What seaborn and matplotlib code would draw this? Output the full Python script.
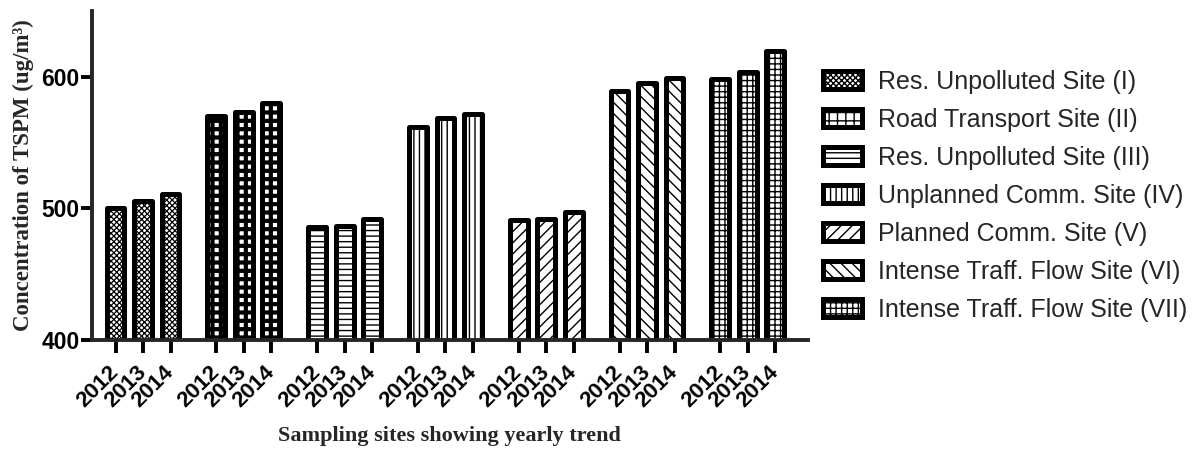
import seaborn as sns
import pandas as pd
import matplotlib.pyplot as plt
from matplotlib.patches import Patch

sites = ["Res. Unpolluted Site (I)", "Road Transport Site (II)", "Res. Unpolluted Site (III)",
         "Unplanned Comm. Site (IV)", "Planned Comm. Site (V)", "Intense Traff. Flow Site (VI)",
         "Intense Traff. Flow Site (VII)"]
years = ["2012", "2013", "2014"]
tspm_2012 = [500, 570, 486, 562, 491, 589, 598]
tspm_2013 = [506, 573, 487, 569, 492, 595, 604]
tspm_2014 = [511, 580, 492, 572, 497, 599, 620]

hatches = ["xxxxxx", "++", "---", "|||", "///", "\\\\\\", "+++"]
hatch_lw = [0.9, 3.0, 1.0, 1.0, 1.0, 1.0, 1.0]

df = pd.DataFrame({
    "site": sites * 3,
    "year": [y for y in years for _ in sites],
    "tspm": tspm_2012 + tspm_2013 + tspm_2014,
})

sns.set_style("ticks")
plt.rcParams.update({
    "font.family": ["Liberation Sans", "DejaVu Sans"],
    "font.weight": "bold",
    "axes.linewidth": 2.8,
    "xtick.major.width": 2.8,
    "ytick.major.width": 2.8,
    "xtick.major.size": 9,
    "ytick.major.size": 8,
    "xtick.color": "black",
    "ytick.color": "black",
})

fig = plt.figure(figsize=(12.03, 4.51), dpi=100)
ax = fig.add_axes([0.0765, 0.246, 0.595, 0.7295])

sns.barplot(data=df, x="site", y="tspm", hue="year", palette=["white"] * 3,
            edgecolor="black", linewidth=3.6, width=0.818, gap=0.35, legend=False, ax=ax)

centers = []
for cont in ax.containers:
    for i, bar in enumerate(cont):
        bar.set_hatch(hatches[i])
        bar.set_hatch_linewidth(hatch_lw[i])
        bar.set_joinstyle("round")
        centers.append(bar.get_x() + bar.get_width() / 2)
centers.sort()

ax.set_xticks(centers)
ax.set_xticklabels([years[i % 3] for i in range(len(centers))], rotation=45,
                   ha="right", va="center", rotation_mode="anchor",
                   fontsize=16, fontweight="bold")
ax.tick_params(axis="x", pad=12)
ax.set_ylim(400, 650)
ax.set_yticks([400, 500, 600])
ax.tick_params(axis="y", labelsize=16.5, pad=1)
for t in ax.get_yticklabels():
    t.set_fontweight("bold")
ax.set_xlim(-0.506, 6.595)
sns.despine(ax=ax)

ax.set_ylabel("Concentration of TSPM (ug/m³)", family="Liberation Serif",
              fontweight="bold", fontsize=16.5, labelpad=5)
ax.set_xlabel("Sampling sites showing yearly trend", family="Liberation Serif",
              fontweight="bold", fontsize=16, labelpad=10)

handles = [Patch(facecolor="white", edgecolor="black", linewidth=3.6, hatch=h) for h in hatches]
fig.legend(handles, sites, loc="upper left", bbox_to_anchor=(0.674, 0.873), frameon=False,
           borderpad=0, labelspacing=0.56, handlelength=1.55, handleheight=0.75,
           handletextpad=0.65, prop={"family": "Liberation Sans", "weight": "normal", "size": 18})

fig.savefig("out.png", dpi=100)
